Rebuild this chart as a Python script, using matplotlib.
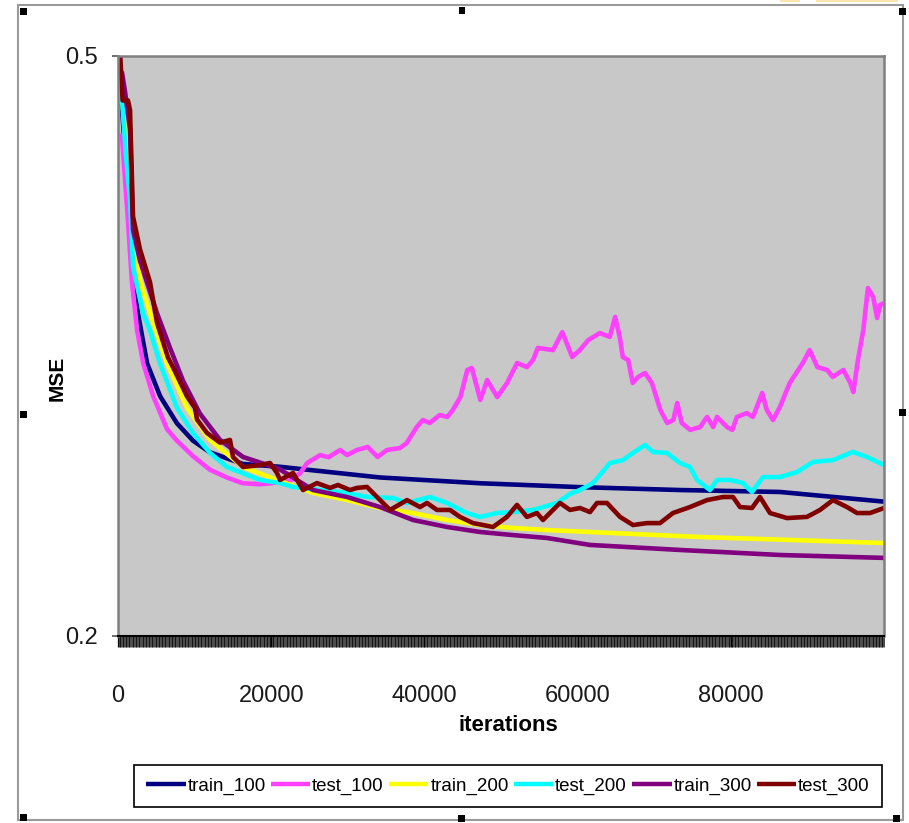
import matplotlib
matplotlib.use("Agg")
import matplotlib.pyplot as plt
from matplotlib.patches import Rectangle
from matplotlib.ticker import MultipleLocator, FixedLocator

# ---- data: (iteration, MSE) pairs for each run ----
train_100 = [(500, 0.475), (1000, 0.445), (1500, 0.415), (2000, 0.385), (2600, 0.367),
             (3800, 0.341), (5500, 0.324), (7700, 0.310), (9800, 0.301), (12000, 0.295),
             (16300, 0.289), (21200, 0.2875), (34200, 0.282), (47300, 0.279), (60300, 0.277),
             (73400, 0.2755), (86400, 0.2745), (100000, 0.2695)]

test_100 = [(500, 0.46), (1300, 0.415), (1800, 0.384), (2500, 0.358), (3300, 0.341),
            (4600, 0.324), (6400, 0.307), (7700, 0.301), (9800, 0.293), (12000, 0.286),
            (14200, 0.282), (16300, 0.279), (18500, 0.2785), (20000, 0.279), (22500, 0.2805),
            (23800, 0.2843), (24700, 0.2895), (26400, 0.2936), (27500, 0.2925), (29000, 0.2962),
            (29900, 0.2936), (31200, 0.2962), (32600, 0.2978), (33900, 0.2926), (35100, 0.2962),
            (36800, 0.2972), (37700, 0.2998), (39000, 0.3081), (39800, 0.3117), (40700, 0.3102),
            (42000, 0.3143), (43000, 0.3133), (43700, 0.3169), (44700, 0.3236), (45600, 0.3376),
            (46200, 0.3386), (47300, 0.3221), (48200, 0.3324), (49500, 0.3236), (50800, 0.3309),
            (52100, 0.3412), (53400, 0.3391), (54200, 0.3428), (54800, 0.3490), (56800, 0.3479),
            (58000, 0.3572), (59300, 0.3443), (60300, 0.3479), (61400, 0.3531), (62900, 0.3567),
            (64200, 0.3547), (64900, 0.3650), (65500, 0.3547), (65900, 0.3443), (66600, 0.3428),
            (67200, 0.3309), (67900, 0.3340), (68800, 0.3360), (69700, 0.3309), (70800, 0.3169),
            (71700, 0.3102), (72500, 0.3117), (73000, 0.3205), (73600, 0.3102), (74700, 0.3066),
            (76000, 0.3081), (76900, 0.3133), (77700, 0.3081), (78200, 0.3133), (79500, 0.3081),
            (80200, 0.3066), (80800, 0.3133), (82100, 0.3153), (82900, 0.3133), (84100, 0.3257),
            (84700, 0.3169), (85500, 0.3117), (86400, 0.3184), (87700, 0.3309), (89400, 0.3412),
            (90300, 0.3479), (91300, 0.3391), (92600, 0.3376), (93300, 0.3340), (94700, 0.3376),
            (95600, 0.3309), (96000, 0.3262), (96600, 0.3428), (97300, 0.3583), (97900, 0.3800),
            (98600, 0.3753), (99100, 0.3645), (99500, 0.3712), (100000, 0.3722)]

train_200 = [(500, 0.48), (1000, 0.455), (1570, 0.43), (2870, 0.384), (4180, 0.367),
             (6400, 0.341), (9010, 0.318), (12010, 0.3014), (16320, 0.2874), (20760, 0.2807),
             (25460, 0.2740), (29900, 0.2703), (34200, 0.2662), (38510, 0.2636), (42950, 0.2600),
             (47260, 0.2574), (51570, 0.2559), (56000, 0.2548), (61620, 0.2538), (76000, 0.2512),
             (100000, 0.2481)]

test_200 = [(500, 0.48), (1000, 0.45), (1570, 0.4255), (1960, 0.391), (3260, 0.367),
            (4180, 0.358), (5480, 0.341), (7700, 0.318), (9790, 0.305), (12010, 0.2947),
            (14230, 0.2874), (18540, 0.2807), (21150, 0.2791), (22850, 0.2771), (26370, 0.2755),
            (29900, 0.2740), (32510, 0.2719), (35900, 0.2714), (37730, 0.2688), (40730, 0.2719),
            (42950, 0.2688), (45560, 0.2636), (47260, 0.2616), (49480, 0.2636), (51570, 0.2641),
            (54180, 0.2652), (57310, 0.2688), (59010, 0.2735), (60310, 0.2755), (62010, 0.2791),
            (64230, 0.2895), (65930, 0.2910), (67230, 0.2947), (68800, 0.2988), (69840, 0.2952),
            (71670, 0.2947), (73370, 0.2895), (74670, 0.2874), (75590, 0.2807), (77290, 0.2755),
            (78200, 0.2807), (79900, 0.2807), (81590, 0.2791), (82770, 0.2745), (84200, 0.2822),
            (86420, 0.2822), (88640, 0.2848), (90730, 0.2900), (93340, 0.2910), (95950, 0.2952),
            (97780, 0.2926), (100000, 0.2884)]

train_300 = [(500, 0.492), (900, 0.482), (1570, 0.462), (1960, 0.41), (2870, 0.394),
             (5090, 0.367), (6790, 0.349), (8490, 0.332), (10700, 0.315), (13320, 0.3014),
             (16320, 0.2926), (21000, 0.2865), (25460, 0.2755), (29900, 0.2719), (34200, 0.2667),
             (38510, 0.2600), (42950, 0.2564), (47260, 0.2538), (51570, 0.2522), (56000, 0.2507),
             (61620, 0.2471), (73370, 0.2445), (86420, 0.2419), (100000, 0.2404)]

test_300 = [(300, 0.50), (600, 0.477), (1300, 0.477), (1570, 0.472), (1960, 0.417),
            (2870, 0.400), (4180, 0.383), (5090, 0.362), (6530, 0.344), (7180, 0.339),
            (9010, 0.324), (10050, 0.318), (10310, 0.312), (11620, 0.305), (13320, 0.300),
            (14620, 0.3014), (15010, 0.2926), (16320, 0.2874), (18540, 0.2884), (19840, 0.2895),
            (20760, 0.2843), (21150, 0.2807), (22850, 0.2843), (24150, 0.2755), (25980, 0.2791),
            (27680, 0.2766), (28720, 0.2781), (30290, 0.2755), (31200, 0.2766), (32510, 0.2771),
            (33810, 0.2719), (35510, 0.2652), (37730, 0.2703), (39430, 0.2667), (40340, 0.2688),
            (41640, 0.2652), (43340, 0.2652), (44650, 0.2616), (46340, 0.2584), (48960, 0.2564),
            (50780, 0.2616), (52090, 0.2678), (53390, 0.2616), (54700, 0.2636), (55480, 0.2600),
            (57700, 0.2688), (59010, 0.2652), (60310, 0.2662), (61620, 0.2641), (62530, 0.2688),
            (63840, 0.2688), (65540, 0.2616), (67230, 0.2574), (69060, 0.2584), (70760, 0.2584),
            (72450, 0.2636), (74670, 0.2667), (76900, 0.2703), (78980, 0.2719), (80290, 0.2719),
            (81200, 0.2667), (82770, 0.2662), (83810, 0.2719), (85120, 0.2636), (87340, 0.2610),
            (89950, 0.2616), (91650, 0.2652), (93340, 0.2703), (95170, 0.2667), (96480, 0.2636),
            (98170, 0.2636), (100000, 0.2662)]

series_names = ["train_100", "test_100", "train_200", "test_200", "train_300", "test_300"]
series_data = [train_100, test_100, train_200, test_200, train_300, test_300]
series_colors = ["#000080", "#ff40ff", "#ffff00", "#00ffff", "#800080", "#800000"]

x_ticks = [0, 20000, 40000, 60000, 80000]
y_ticks = [0.2, 0.5]
y_tick_labels = ["0.2", "0.5"]

# ---- figure ----
W, H = 909, 823
fig = plt.figure(figsize=(W / 100, H / 100), dpi=100)
fig.patch.set_facecolor("white")


def fx(px):
    return px / W


def fy(py):
    return 1 - py / H


sans = ["Liberation Sans", "DejaVu Sans"]

ax = fig.add_axes([fx(118), fy(636), fx(884) - fx(118), fy(56) - fy(636)])
ax.set_facecolor("#c8c8c8")

for name, data, col in zip(series_names, series_data, series_colors):
    xs = [p[0] for p in data]
    ys = [p[1] for p in data]
    ax.plot(xs, ys, color=col, lw=3.3, label=name, solid_joinstyle="round",
            solid_capstyle="butt")

ax.set_xlim(0, 100000)
ax.set_ylim(0.2, 0.5)

# spines
for side in ("top", "right", "left"):
    ax.spines[side].set_color("#808080")
    ax.spines[side].set_linewidth(1.8)
ax.spines["bottom"].set_color("black")
ax.spines["bottom"].set_linewidth(1.5)

# x axis: dense category-style tick marks
ax.xaxis.set_major_locator(FixedLocator(x_ticks))
ax.xaxis.set_minor_locator(MultipleLocator(100))
ax.tick_params(axis="x", which="both", direction="out", length=8, color="black",
               pad=27, labelsize=17, labelcolor="#1a1a1a")
ax.tick_params(axis="x", which="minor", width=0.5)
ax.tick_params(axis="x", which="major", width=0.9)
ax.set_xticklabels([str(v) for v in x_ticks], family=sans)

ax.set_yticks(y_ticks)
ax.set_yticklabels(y_tick_labels, family=sans)
ax.tick_params(axis="y", direction="out", length=4.5, width=1.2, color="#555555",
               pad=10, labelsize=17, labelcolor="#1a1a1a")

ax.set_xlabel("iterations", family=sans, fontsize=16, fontweight="bold")
ax.xaxis.set_label_coords(0.509, -0.137)
ax.set_ylabel("MSE", family=sans, fontsize=15, fontweight="bold")
ax.yaxis.set_label_coords(-0.067, 0.445)

leg = ax.legend(loc="center", bbox_to_anchor=(fx(508), fy(786)),
                bbox_transform=fig.transFigure, ncol=6, frameon=True, fancybox=False,
                edgecolor="black", framealpha=1, handlelength=2.1, handletextpad=0.1,
                columnspacing=0.28, borderpad=0.65,
                prop={"family": sans, "size": 13.5})
leg.get_frame().set_linewidth(1.2)
for line in leg.get_lines():
    line.set_linewidth(3.2)

# outer chart-area border with selection handles
fig.add_artist(Rectangle((fx(18), fy(820)), fx(903) - fx(18), fy(5) - fy(820),
                         transform=fig.transFigure, fill=False, edgecolor="#9a9a9a",
                         lw=1.5))
handle_pts = [(23, 11), (462, 10), (902, 11), (23, 414), (902, 412),
              (23, 817), (461, 818), (896, 818)]
for hx, hy in handle_pts:
    fig.add_artist(Rectangle((fx(hx - 3.5), fy(hy + 3.5)), 7 / W, 7 / H,
                             transform=fig.transFigure, facecolor="black",
                             edgecolor="none"))
fig.add_artist(Rectangle((fx(780), fy(2)), 20 / W, 2 / H, transform=fig.transFigure,
                         facecolor="#fde3ae", edgecolor="none"))
fig.add_artist(Rectangle((fx(816), fy(2)), 82 / W, 2 / H, transform=fig.transFigure,
                         facecolor="#fde3ae", edgecolor="none"))

fig.savefig("out.png", dpi=100)
